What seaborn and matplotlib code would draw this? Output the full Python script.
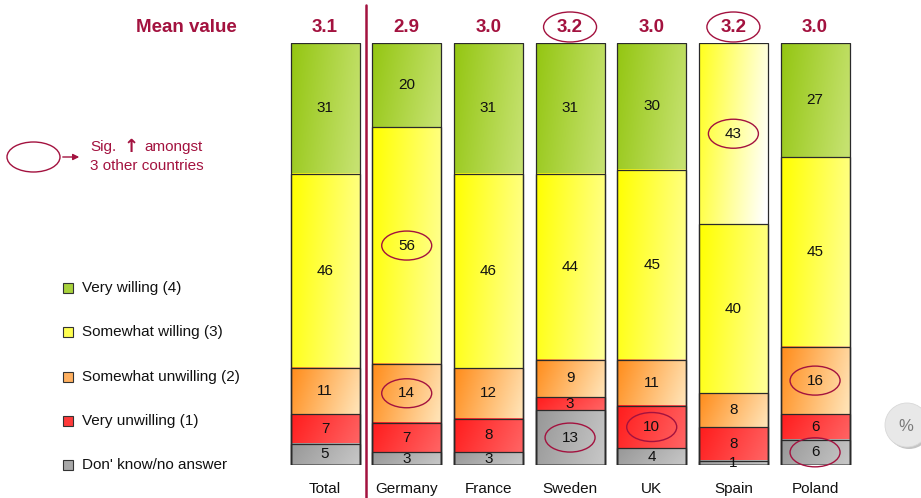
import numpy as np
import matplotlib
matplotlib.use('Agg')
import matplotlib.pyplot as plt
import matplotlib.transforms as mtransforms
from matplotlib.patches import Ellipse, Rectangle, FancyArrowPatch
from matplotlib.lines import Line2D
from matplotlib.colors import LinearSegmentedColormap
import seaborn as sns

# Data (stack order: bottom -> top)
categories = ["Total", "Germany", "France", "Sweden", "UK", "Spain", "Poland"]
series_names = ["Don' know/no answer", "Very unwilling (1)", "Somewhat unwilling (2)",
                "Somewhat willing (3)", "Very willing (4)"]
dont_know = [5, 3, 3, 13, 4, 1, 6]
very_unwilling = [7, 7, 8, 3, 10, 8, 6]
somewhat_unwilling = [11, 14, 12, 9, 11, 8, 16]
somewhat_willing = [46, 56, 46, 44, 45, 40, 45]
very_willing = [31, 20, 31, 31, 30, 43, 27]
mean_values = [3.1, 2.9, 3.0, 3.2, 3.0, 3.2, 3.0]

# significantly higher cells / means (circled)
sig_cells = [("Germany", "Somewhat willing (3)"), ("Germany", "Somewhat unwilling (2)"),
             ("Sweden", "Don' know/no answer"), ("UK", "Very unwilling (1)"),
             ("Spain", "Very willing (4)"), ("Poland", "Somewhat unwilling (2)"),
             ("Poland", "Don' know/no answer")]
sig_means = ["Sweden", "Spain"]

# gradient colours (left, right) per series
grad_colors = [("#979797", "#c6c6c6"), ("#ff1c1c", "#ff6262"), ("#ff8c1a", "#ffe2b4"),
               ("#ffff00", "#ffff94"), ("#94c612", "#c6e270")]
special_grad = {("Spain", 4): ("#ffff1e", "#ffffff")}
legend_colors = ["#a8a8a8", "#ff3a3a", "#ffb060", "#ffff50", "#a8d23c"]

CRIMSON = "#a3123f"
W, H = 921, 498

sns.set_theme(style="white")
plt.rcParams['font.family'] = ['Liberation Sans', 'DejaVu Sans']

fig = plt.figure(figsize=(W / 100, H / 100), dpi=100)
ax = fig.add_axes([284.2 / W, 33 / H, 571.7 / W, 422 / H])

stack = np.array([dont_know, very_unwilling, somewhat_unwilling, somewhat_willing, very_willing])
cum = np.cumsum(stack, axis=0)

seg_boxes = {}
for k in range(len(series_names) - 1, -1, -1):
    n0 = len(ax.patches)
    sns.barplot(x=categories, y=cum[k], order=categories, fill=False, color="#2a2a2a",
                linewidth=0.9, width=0.845, errorbar=None, ax=ax, zorder=3)
    for i, patch in enumerate(ax.patches[n0:n0 + len(categories)]):
        x0, w = patch.get_x(), patch.get_width()
        y_top = patch.get_height()
        y_bot = cum[k - 1][i] if k > 0 else 0
        c_left, c_right = special_grad.get((categories[i], k), grad_colors[k])
        cmap = LinearSegmentedColormap.from_list("g", [c_left, c_right])
        u = np.linspace(0, 1, 60)[None, :]
        v = np.linspace(0, 1, 60)[:, None]
        grad = np.clip(0.85 * u + 0.2 * v, 0, 1)
        ax.imshow(grad, cmap=cmap, extent=(x0, x0 + w, y_bot, y_top), origin="upper",
                  aspect="auto", interpolation="bilinear", zorder=1, vmin=0, vmax=1)
        seg_boxes[(categories[i], series_names[k])] = (x0 + w / 2, (y_bot + y_top) / 2)
        ax.text(x0 + w / 2, (y_bot + y_top) / 2, str(stack[k][i]), ha="center", va="center",
                fontsize=11, color="#111111", zorder=4)

ax.set_xlim(-0.5, len(categories) - 0.5)
ax.set_ylim(0, 100)
ax.set_yticks([])
ax.set_xlabel("")
ax.set_ylabel("")
ax.tick_params(axis="x", length=0, pad=12, labelsize=11, labelcolor="#111111")
for s in ax.spines.values():
    s.set_visible(False)
ax.set_facecolor("none")

inv = fig.transFigure.inverted()


def px_ellipse(cx, cy, w=52, h=30):
    # cx, cy in display pixels (origin bottom-left)
    (fx, fy) = inv.transform((cx, cy))
    e = Ellipse((fx, fy), w / W, h / H, transform=fig.transFigure, fill=False,
                edgecolor=CRIMSON, linewidth=1.0, zorder=6)
    fig.add_artist(e)


for key in sig_cells:
    cx, cy = ax.transData.transform(seg_boxes[key])
    px_ellipse(cx, cy, 50, 29)

# Mean values row
blend = mtransforms.blended_transform_factory(ax.transData, fig.transFigure)
for i, m in enumerate(mean_values):
    ax.text(i, 1 - 27 / H, f"{m:.1f}", transform=blend, ha="center", va="center",
            fontsize=13.5, fontweight="bold", color=CRIMSON)
    if categories[i] in sig_means:
        cx, _ = ax.transData.transform((i, 0))
        px_ellipse(cx, H - 27, 53, 30)
fig.text(237 / W, 1 - 27 / H, "Mean value", ha="right", va="center", fontsize=13.5,
         fontweight="bold", color=CRIMSON)

# separator after Total
fig.add_artist(Line2D([0.5, 0.5], [0, 1 - 5 / H], transform=blend, color=CRIMSON, linewidth=1.8))

# Legend
legend_y = [288, 332, 377, 421, 465]
for name, col, y in zip(series_names[::-1], legend_colors[::-1], legend_y):
    fig.add_artist(Rectangle((63 / W, 1 - (y + 5) / H), 10 / W, 10 / H, transform=fig.transFigure,
                             facecolor=col, edgecolor="#333333", linewidth=0.8))
    fig.text(82 / W, 1 - y / H, name, ha="left", va="center", fontsize=11, color="#111111")

# Significance key
fig.add_artist(Ellipse((33.5 / W, 1 - 157 / H), 53 / W, 30 / H, transform=fig.transFigure,
                       fill=False, edgecolor=CRIMSON, linewidth=1.0))
fig.add_artist(FancyArrowPatch((60 / W, 1 - 157 / H), (82 / W, 1 - 157 / H),
                               transform=fig.transFigure, arrowstyle="-|>", mutation_scale=9,
                               color=CRIMSON, linewidth=1.0))
fig.text(90 / W, 1 - 147 / H, "Sig.", ha="left", va="center", fontsize=11, color=CRIMSON)
fig.text(131 / W, 1 - 147 / H, "\u2191", ha="center", va="center", fontsize=13,
         fontweight="bold", color=CRIMSON, family=['DejaVu Sans'])
fig.text(144 / W, 1 - 147 / H, "amongst", ha="left", va="center", fontsize=11, color=CRIMSON)
fig.text(90 / W, 1 - 166 / H, "3 other countries", ha="left", va="center", fontsize=11,
         color=CRIMSON)

# percent badge
fig.add_artist(Ellipse((909 / W, 1 - 427 / H), 44 / W, 44 / H, transform=fig.transFigure,
                       facecolor="#c4c4c4", edgecolor="none"))
fig.add_artist(Ellipse((907 / W, 1 - 425 / H), 44 / W, 44 / H, transform=fig.transFigure,
                       facecolor="#e8e8e8", edgecolor="#d8d8d8", linewidth=0.6))
fig.text(906 / W, 1 - 426 / H, "%", ha="center", va="center", fontsize=12, color="#7a7a7a")

fig.savefig("out.png", dpi=100)
plt.close(fig)
